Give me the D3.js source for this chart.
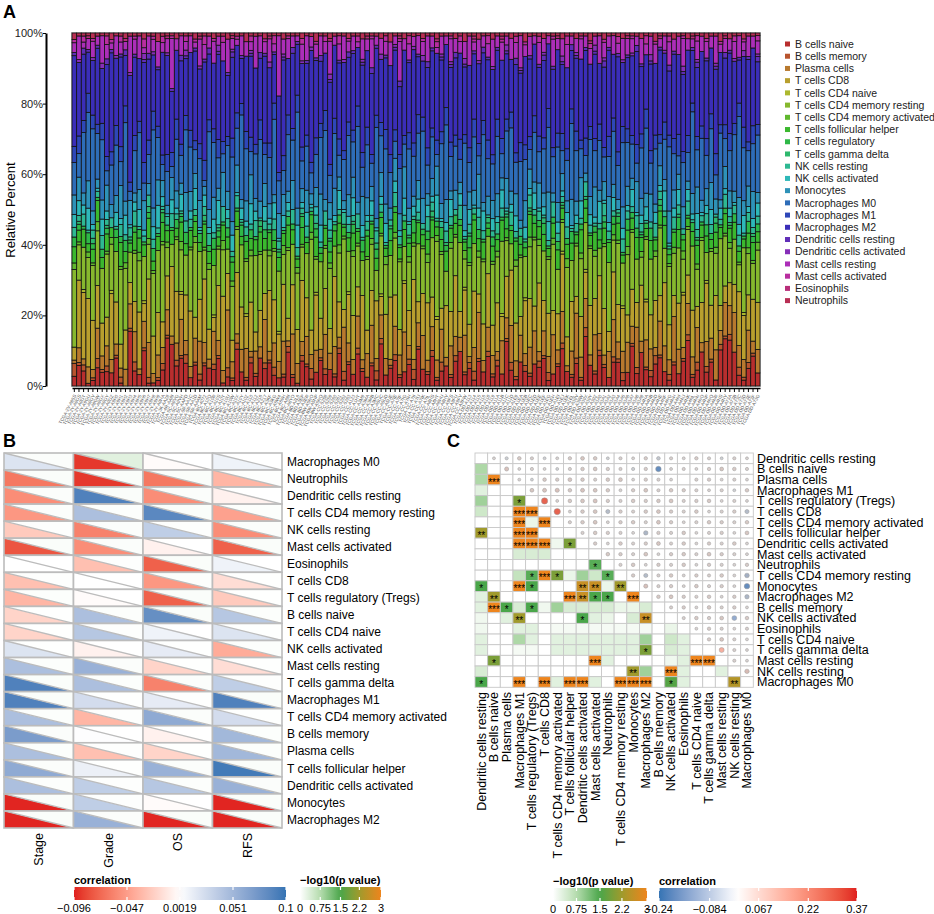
<!DOCTYPE html>
<html>
<head>
<meta charset="utf-8">
<script src="https://cdn.jsdelivr.net/npm/d3@7"></script>
<style>
  body { margin: 0; background: #fff; }
  svg { font-family: 'Liberation Sans', Arial, sans-serif; }
</style>
</head>
<body>
<svg id="fig" width="934" height="914"></svg>
<script>
// ---------- Panel A : CIBERSORT fractions per sample ----------
const cellTypes = ['B cells naive', 'B cells memory', 'Plasma cells', 'T cells CD8', 'T cells CD4 naive',
  'T cells CD4 memory resting', 'T cells CD4 memory activated', 'T cells follicular helper',
  'T cells regulatory', 'T cells gamma delta', 'NK cells resting', 'NK cells activated', 'Monocytes',
  'Macrophages M0', 'Macrophages M1', 'Macrophages M2', 'Dendritic cells resting',
  'Dendritic cells activated', 'Mast cells resting', 'Mast cells activated', 'Eosinophils', 'Neutrophils']

const cellColors = ['#b82e2e', '#b8542e', '#b8792e', '#b89f2e', '#acb82e', '#86b82e', '#60b82e', '#3bb82e',
  '#2eb847', '#2eb86d', '#2eb892', '#2eb8b8', '#2e92b8', '#2e6db8', '#2e47b8', '#3b2eb8', '#602eb8',
  '#862eb8', '#ac2eb8', '#b82e9f', '#b82e79', '#b82e54']

const percentTicks = [0, 0.2, 0.4, 0.6, 0.8, 1]

const sampleIds = [
  'TCGA-2V-A95S', 'TCGA-2Y-A9GS', 'TCGA-2Y-A9GT', 'TCGA-2Y-A9GU', 'TCGA-2Y-A9GV', 'TCGA-2Y-A9GW', 'TCGA-2Y-A9GX', 'TCGA-2Y-A9GY', 'TCGA-2Y-A9GZ', 'TCGA-2Y-A9H0',
  'TCGA-2Y-A9H1', 'TCGA-2Y-A9H2', 'TCGA-2Y-A9H3', 'TCGA-2Y-A9H4', 'TCGA-2Y-A9H5', 'TCGA-2Y-A9H6', 'TCGA-2Y-A9H7', 'TCGA-2Y-A9H8', 'TCGA-2Y-A9H9', 'TCGA-2Y-A9HA',
  'TCGA-3K-AAZ8', 'TCGA-4R-AA8I', 'TCGA-5C-A9VG', 'TCGA-5C-A9VH', 'TCGA-5C-AAPD', 'TCGA-5R-AA1C', 'TCGA-5R-AA1D', 'TCGA-5R-AAAM', 'TCGA-BC-4072', 'TCGA-BC-A10Q',
  'TCGA-BC-A10R', 'TCGA-BC-A10S', 'TCGA-BC-A10T', 'TCGA-BC-A10U', 'TCGA-BC-A10W', 'TCGA-BC-A10X', 'TCGA-BC-A10Y', 'TCGA-BC-A10Z', 'TCGA-BC-A110', 'TCGA-BC-A112',
  'TCGA-BC-A216', 'TCGA-BC-A217', 'TCGA-BC-A3KF', 'TCGA-BC-A3KG', 'TCGA-BC-A5W4', 'TCGA-BC-A69H', 'TCGA-BC-A69I', 'TCGA-BC-A8YO', 'TCGA-BD-A2L6', 'TCGA-BD-A3EP',
  'TCGA-BD-A3ER', 'TCGA-BW-A5NO', 'TCGA-BW-A5NP', 'TCGA-BW-A5NQ', 'TCGA-CC-5258', 'TCGA-CC-5259', 'TCGA-CC-5260', 'TCGA-CC-5261', 'TCGA-CC-5262', 'TCGA-CC-5263',
  'TCGA-CC-A123', 'TCGA-CC-A1HT', 'TCGA-CC-A3M9', 'TCGA-CC-A3MA', 'TCGA-CC-A3MB', 'TCGA-CC-A3MC', 'TCGA-CC-A5UC', 'TCGA-CC-A5UD', 'TCGA-CC-A5UE', 'TCGA-CC-A7IE',
  'TCGA-CC-A7IF', 'TCGA-CC-A7IG', 'TCGA-CC-A7IH', 'TCGA-CC-A7II', 'TCGA-CC-A7IJ', 'TCGA-CC-A7IK', 'TCGA-CC-A7IL', 'TCGA-CC-A8HS', 'TCGA-CC-A8HT', 'TCGA-CC-A8HU',
  'TCGA-CC-A8HV', 'TCGA-CC-A9FS', 'TCGA-CC-A9FU', 'TCGA-CC-A9FV', 'TCGA-CC-A9FW', 'TCGA-DD-A113', 'TCGA-DD-A114', 'TCGA-DD-A115', 'TCGA-DD-A116', 'TCGA-DD-A118',
  'TCGA-DD-A119', 'TCGA-DD-A11A', 'TCGA-DD-A11B', 'TCGA-DD-A11C', 'TCGA-DD-A11D', 'TCGA-DD-A1E9', 'TCGA-DD-A1EA', 'TCGA-DD-A1EB', 'TCGA-DD-A1EC', 'TCGA-DD-A1ED',
  'TCGA-DD-A1EE', 'TCGA-DD-A1EF', 'TCGA-DD-A1EG', 'TCGA-DD-A1EH', 'TCGA-DD-A1EI', 'TCGA-DD-A1EJ', 'TCGA-DD-A1EK', 'TCGA-DD-A1EL', 'TCGA-DD-A39V', 'TCGA-DD-A39W',
  'TCGA-DD-A39X', 'TCGA-DD-A39Y', 'TCGA-DD-A39Z', 'TCGA-DD-A3A0', 'TCGA-DD-A3A1', 'TCGA-DD-A3A2', 'TCGA-DD-A3A3', 'TCGA-DD-A3A4', 'TCGA-DD-A3A5', 'TCGA-DD-A3A6',
  'TCGA-DD-A3A7', 'TCGA-DD-A3A8', 'TCGA-DD-A3A9', 'TCGA-DD-A4NA', 'TCGA-DD-A4NB', 'TCGA-DD-A4ND', 'TCGA-DD-A4NE', 'TCGA-DD-A4NF', 'TCGA-DD-A4NG', 'TCGA-DD-A4NH',
  'TCGA-DD-A4NI', 'TCGA-DD-A4NJ', 'TCGA-DD-A4NK', 'TCGA-DD-A4NL', 'TCGA-DD-A4NN', 'TCGA-DD-A4NO', 'TCGA-DD-A4NP', 'TCGA-DD-A4NQ', 'TCGA-DD-A4NR', 'TCGA-DD-A4NS',
  'TCGA-DD-A4NV', 'TCGA-DD-A73A', 'TCGA-DD-A73B', 'TCGA-DD-A73C', 'TCGA-DD-A73D', 'TCGA-DD-A73E', 'TCGA-DD-A73F', 'TCGA-DD-A73G']

// relative amounts (%), one value per sample, stacked bottom -> top
const fracBNaive = [
  3, 7, 5, 1, 2, 6, 5, 5, 4, 10, 1, 0, 18, 5, 4, 12, 1, 1, 2, 5, 17, 15, 7, 10, 8, 3, 7, 2, 7, 6,
  6, 9, 1, 3, 2, 12, 5, 2, 8, 3, 10, 6, 8, 4, 3, 3, 12, 3, 1, 9, 7, 2, 5, 9, 4, 6, 3, 12, 2, 8,
  4, 11, 5, 3, 7, 2, 16, 4, 6, 9, 3, 5, 8, 2, 14, 6, 4, 10, 2, 5, 7, 3, 9, 12, 4, 6, 2, 8, 5, 11,
  3, 7, 4, 15, 6, 2, 9, 5, 3, 8, 6, 10, 2, 4, 7, 13, 5, 3, 8, 2, 17, 8, 4, 11, 6, 3, 9, 7, 2, 5,
  14, 4, 12, 6, 3, 8, 10, 5, 2, 7, 4, 9, 16, 3, 6, 11, 5, 8, 2, 13, 17, 16, 12, 4, 2, 6, 10, 5]
const fracBMemory = [
  4, 1, 2, 0, 1, 3, 1, 2, 0, 1, 2, 0, 1, 3, 0, 1, 2, 0, 1, 2, 1, 0, 2, 1, 3, 0, 1, 2, 1, 0,
  2, 1, 0, 3, 1, 2, 0, 1, 2, 1, 0, 2, 1, 3, 0, 1, 2, 1, 0, 2, 1, 3, 0, 1, 2, 0, 1, 2, 3, 1,
  0, 2, 1, 0, 1, 3, 2, 0, 1, 2, 1, 0, 2, 3, 1, 0, 1, 2, 1, 3, 0, 1, 2, 0, 1, 2, 3, 1, 0, 2,
  1, 2, 0, 1, 3, 1, 0, 2, 1, 0, 2, 1, 3, 0, 1, 2, 0, 1, 2, 1, 3, 0, 1, 2, 1, 0, 2, 1, 3, 0,
  1, 2, 0, 1, 2, 3, 1, 0, 2, 1, 0, 1, 2, 1, 3, 0, 2, 1, 0, 2, 1, 2, 0, 3, 1, 2, 1, 0]
const fracPlasma = [
  1, 5, 2, 6, 3, 10, 5, 7, 4, 4, 3, 6, 8, 10, 2, 9, 12, 3, 8, 5, 9, 3, 6, 13, 5, 4, 8, 11, 7, 3,
  12, 5, 4, 19, 6, 3, 8, 10, 2, 7, 4, 15, 3, 9, 6, 11, 2, 14, 7, 5, 10, 4, 8, 3, 12, 6, 9, 4, 15, 7,
  5, 11, 3, 8, 13, 4, 9, 6, 2, 10, 7, 14, 5, 3, 9, 12, 4, 8, 6, 11, 3, 10, 7, 5, 13, 2, 8, 15, 4, 9,
  6, 3, 11, 7, 14, 5, 10, 4, 8, 12, 3, 9, 6, 13, 5, 11, 2, 8, 16, 7, 10, 4, 12, 6, 3, 9, 14, 5, 8, 11,
  6, 13, 4, 10, 7, 3, 12, 9, 5, 15, 8, 4, 11, 6, 13, 3, 9, 7, 10, 5, 12, 10, 14, 8, 6, 11, 4, 9]
const fracCD8 = [
  4, 23, 22, 25, 18, 14, 12, 10, 20, 15, 8, 14, 7, 10, 20, 6, 22, 12, 15, 8, 12, 25, 18, 9, 16, 20, 7, 14, 22, 10,
  5, 18, 24, 12, 8, 20, 15, 11, 17, 6, 13, 9, 21, 16, 10, 19, 8, 17, 12, 22, 14, 7, 20, 11, 16, 9, 23, 13, 6, 18,
  15, 10, 22, 8, 12, 19, 7, 16, 21, 11, 9, 17, 13, 24, 8, 15, 20, 10, 14, 7, 18, 12, 22, 9, 16, 11, 19, 6, 13, 20,
  10, 17, 8, 14, 21, 12, 7, 18, 15, 9, 22, 11, 16, 8, 13, 20, 10, 17, 6, 14, 9, 19, 12, 21, 15, 7, 18, 11, 16, 10,
  13, 8, 20, 14, 11, 17, 9, 22, 12, 7, 15, 19, 10, 16, 8, 13, 21, 11, 18, 9, 6, 8, 10, 20, 15, 12, 14, 18]
const fracCD4Naive = [
  0, 0, 1, 0, 0, 0, 0, 0, 1, 0, 0, 0, 0, 0, 0, 1, 0, 0, 0, 0, 0, 0, 0, 1, 0, 0, 0, 0, 0, 0,
  1, 0, 0, 0, 0, 0, 0, 1, 0, 0, 0, 0, 0, 0, 1, 0, 0, 0, 0, 0, 0, 0, 1, 0, 0, 0, 0, 0, 0, 1,
  0, 0, 0, 0, 0, 0, 1, 0, 0, 0, 0, 1, 0, 0, 0, 0, 0, 0, 1, 0, 0, 0, 0, 0, 1, 0, 0, 0, 0, 0,
  0, 0, 1, 0, 0, 0, 0, 1, 0, 0, 0, 0, 0, 0, 0, 1, 0, 0, 0, 0, 1, 0, 0, 0, 0, 0, 0, 0, 1, 0,
  0, 0, 0, 1, 0, 0, 0, 0, 0, 0, 0, 1, 0, 0, 0, 0, 1, 0, 0, 0, 0, 0, 0, 0, 1, 0, 0, 0]
const fracCD4MemRest = [
  24, 12, 14, 15, 20, 18, 20, 22, 14, 18, 25, 22, 10, 16, 18, 15, 12, 20, 22, 24, 10, 8, 18, 15, 14, 22, 25, 16, 10, 20,
  18, 12, 15, 8, 20, 14, 22, 18, 16, 24, 20, 15, 12, 18, 22, 10, 24, 14, 20, 12, 16, 26, 12, 20, 14, 22, 10, 18, 24, 15,
  20, 14, 12, 24, 16, 10, 22, 18, 14, 20, 24, 12, 18, 10, 22, 16, 14, 20, 26, 18, 12, 22, 14, 24, 10, 20, 16, 12, 22, 14,
  20, 16, 24, 12, 10, 18, 22, 14, 16, 24, 12, 18, 20, 22, 16, 10, 24, 14, 18, 20, 16, 22, 14, 10, 20, 24, 12, 18, 16, 22,
  20, 14, 10, 22, 18, 16, 24, 12, 20, 14, 18, 12, 16, 22, 14, 20, 10, 18, 14, 24, 18, 12, 16, 10, 22, 14, 12, 20]
const fracCD4MemAct = [
  2, 1, 0, 2, 1, 3, 0, 1, 2, 0, 1, 2, 0, 1, 3, 0, 2, 1, 0, 1, 2, 0, 1, 3, 0, 1, 2, 0, 1, 2,
  0, 1, 3, 0, 2, 1, 0, 1, 2, 0, 1, 0, 2, 1, 0, 3, 1, 0, 2, 1, 0, 2, 1, 0, 1, 2, 0, 3, 1, 0,
  2, 1, 0, 1, 2, 0, 1, 3, 0, 2, 1, 0, 2, 1, 0, 1, 3, 0, 2, 1, 0, 2, 1, 0, 3, 1, 0, 2, 1, 0,
  1, 2, 0, 1, 0, 2, 1, 0, 3, 1, 2, 0, 1, 2, 0, 1, 3, 0, 1, 2, 0, 1, 2, 0, 1, 0, 2, 1, 0, 3,
  1, 0, 2, 1, 0, 2, 1, 0, 1, 2, 0, 3, 1, 0, 2, 1, 0, 1, 2, 0, 1, 2, 0, 1, 0, 2, 1, 3]
const fracTfh = [
  5, 4, 6, 3, 5, 7, 4, 6, 3, 5, 8, 4, 3, 6, 5, 4, 7, 3, 5, 6, 4, 5, 3, 7, 4, 6, 5, 3, 8, 4,
  6, 3, 5, 4, 7, 5, 3, 6, 4, 5, 7, 4, 6, 3, 5, 4, 8, 5, 3, 6, 4, 5, 7, 3, 6, 4, 5, 8, 3, 5,
  6, 4, 3, 7, 5, 4, 6, 3, 5, 7, 4, 6, 5, 3, 8, 4, 5, 6, 3, 4, 7, 5, 4, 6, 3, 5, 8, 4, 6, 3,
  5, 4, 7, 3, 5, 6, 4, 3, 7, 5, 4, 6, 3, 5, 7, 4, 5, 6, 3, 8, 5, 4, 6, 3, 5, 7, 4, 5, 3, 6,
  4, 7, 5, 3, 6, 4, 5, 8, 3, 5, 6, 4, 3, 5, 7, 4, 6, 3, 5, 4, 7, 5, 6, 4, 3, 5, 6, 4]
const fracTregs = [
  3, 2, 1, 4, 2, 1, 3, 2, 0, 3, 2, 4, 1, 2, 3, 1, 2, 4, 1, 3, 2, 1, 3, 2, 4, 1, 2, 3, 1, 2,
  4, 2, 1, 3, 2, 1, 4, 2, 3, 1, 2, 3, 1, 4, 2, 1, 3, 2, 1, 4, 2, 1, 3, 2, 1, 4, 2, 3, 1, 2,
  3, 1, 4, 2, 1, 3, 2, 1, 4, 2, 1, 3, 2, 4, 1, 2, 3, 1, 2, 4, 2, 1, 3, 2, 1, 4, 2, 3, 1, 2,
  3, 2, 1, 4, 2, 1, 3, 2, 1, 3, 2, 4, 1, 2, 3, 1, 2, 4, 1, 2, 3, 1, 2, 4, 2, 1, 3, 2, 1, 4,
  2, 3, 1, 2, 4, 1, 2, 3, 2, 1, 4, 2, 1, 3, 2, 1, 4, 2, 3, 1, 2, 1, 3, 2, 1, 4, 2, 3]
const fracGammaDelta = [
  0, 1, 0, 0, 2, 0, 0, 1, 0, 0, 0, 0, 1, 0, 0, 0, 2, 0, 0, 1, 0, 0, 0, 1, 0, 0, 0, 0, 2, 0,
  0, 1, 0, 0, 0, 0, 1, 0, 0, 0, 2, 0, 0, 0, 1, 0, 0, 0, 0, 1, 0, 0, 2, 0, 0, 1, 0, 0, 0, 0,
  1, 0, 0, 0, 0, 2, 0, 0, 1, 0, 0, 0, 1, 0, 0, 0, 0, 2, 0, 0, 1, 0, 0, 0, 0, 1, 0, 0, 0, 2,
  0, 0, 0, 1, 0, 0, 0, 0, 1, 0, 0, 2, 0, 0, 0, 1, 0, 0, 0, 0, 1, 0, 0, 0, 2, 0, 0, 1, 0, 0,
  0, 0, 1, 0, 0, 0, 2, 0, 0, 0, 1, 0, 0, 0, 1, 0, 0, 0, 2, 0, 0, 1, 0, 0, 0, 0, 1, 0]
const fracNKRest = [
  3, 2, 4, 1, 3, 2, 5, 2, 3, 1, 4, 2, 3, 5, 1, 2, 4, 3, 2, 1, 3, 5, 2, 1, 4, 3, 2, 1, 3, 4,
  2, 1, 5, 3, 2, 4, 1, 3, 2, 5, 1, 3, 2, 4, 3, 1, 2, 5, 3, 2, 4, 1, 3, 2, 5, 3, 1, 2, 4, 3,
  2, 5, 1, 3, 2, 4, 3, 1, 2, 5, 3, 2, 4, 1, 3, 2, 5, 3, 1, 2, 4, 3, 2, 5, 1, 3, 2, 4, 3, 1,
  2, 4, 3, 1, 5, 2, 3, 1, 4, 2, 3, 1, 2, 5, 3, 2, 4, 1, 3, 2, 5, 3, 1, 2, 4, 3, 2, 1, 5, 3,
  2, 4, 3, 1, 2, 5, 3, 2, 1, 4, 3, 2, 5, 1, 3, 2, 4, 3, 1, 2, 5, 2, 3, 4, 1, 3, 2, 3]
const fracNKAct = [
  4, 5, 3, 8, 2, 1, 6, 3, 0, 5, 2, 7, 1, 3, 6, 2, 0, 4, 8, 3, 1, 5, 2, 6, 0, 3, 7, 1, 4, 2,
  5, 8, 0, 3, 6, 1, 4, 2, 7, 3, 0, 5, 2, 6, 1, 4, 3, 0, 8, 2, 5, 1, 3, 6, 0, 4, 2, 7, 1, 3,
  6, 0, 4, 2, 5, 1, 3, 7, 0, 4, 2, 6, 1, 3, 5, 0, 4, 2, 8, 1, 3, 6, 0, 4, 2, 5, 1, 3, 7, 0,
  4, 2, 6, 1, 3, 5, 0, 4, 2, 6, 1, 3, 7, 0, 4, 2, 5, 1, 3, 6, 0, 4, 2, 8, 1, 3, 5, 0, 4, 2,
  6, 1, 3, 5, 0, 4, 2, 7, 1, 3, 5, 0, 4, 2, 6, 1, 3, 5, 0, 4, 2, 3, 1, 4, 6, 2, 3, 5]
const fracMonocytes = [
  6, 8, 4, 10, 5, 3, 7, 9, 4, 6, 11, 5, 8, 3, 7, 10, 4, 6, 9, 5, 3, 8, 6, 4, 10, 7, 5, 9, 3, 6,
  8, 4, 11, 6, 5, 9, 3, 7, 10, 4, 6, 8, 5, 3, 9, 7, 4, 10, 6, 5, 8, 3, 7, 11, 4, 6, 9, 5, 3, 8,
  7, 4, 10, 6, 5, 3, 9, 7, 4, 8, 6, 11, 5, 3, 7, 9, 4, 6, 10, 5, 8, 3, 7, 4, 9, 6, 5, 11, 3, 7,
  6, 8, 4, 10, 5, 7, 3, 9, 6, 4, 8, 5, 11, 3, 7, 6, 4, 9, 5, 8, 3, 7, 10, 4, 6, 9, 5, 3, 8, 7,
  4, 10, 6, 5, 9, 3, 7, 4, 11, 6, 5, 8, 3, 7, 10, 4, 6, 9, 5, 3, 8, 6, 4, 10, 5, 7, 9, 4]
const fracM0 = [
  10, 8, 20, 25, 30, 15, 22, 5, 12, 18, 8, 28, 3, 14, 20, 6, 10, 25, 15, 5, 12, 4, 18, 10, 22, 16, 8, 14, 2, 26,
  20, 10, 6, 15, 24, 12, 30, 18, 8, 14, 22, 10, 16, 28, 12, 8, 20, 14, 34, 10, 16, 6, 12, 20, 24, 10, 18, 8, 14, 22,
  12, 26, 10, 18, 8, 30, 14, 20, 12, 6, 16, 8, 22, 12, 18, 24, 10, 14, 4, 20, 26, 12, 16, 8, 22, 10, 18, 6, 24, 14,
  12, 20, 8, 16, 24, 10, 22, 14, 6, 18, 10, 16, 24, 12, 20, 8, 14, 26, 18, 10, 6, 22, 12, 18, 8, 14, 20, 10, 24, 16,
  12, 6, 18, 24, 10, 20, 8, 14, 22, 12, 6, 16, 10, 28, 14, 20, 12, 18, 8, 24, 10, 14, 20, 30, 18, 12, 16, 22]
const fracM1 = [
  5, 6, 4, 7, 5, 3, 6, 5, 4, 7, 5, 6, 3, 5, 4, 7, 5, 6, 4, 3, 6, 5, 7, 4, 5, 6, 3, 5, 7, 4,
  5, 6, 4, 3, 7, 5, 4, 6, 5, 3, 7, 4, 5, 6, 3, 5, 7, 4, 6, 5, 4, 3, 6, 5, 7, 4, 5, 6, 3, 5,
  4, 7, 5, 6, 3, 4, 5, 7, 6, 4, 5, 3, 6, 4, 7, 5, 6, 3, 5, 4, 6, 5, 4, 7, 3, 5, 6, 4, 5, 7,
  3, 6, 5, 4, 6, 3, 7, 5, 4, 6, 5, 4, 7, 3, 5, 6, 4, 5, 7, 3, 6, 5, 4, 6, 3, 7, 5, 4, 6, 5,
  3, 6, 5, 7, 4, 5, 3, 6, 4, 5, 7, 4, 6, 3, 5, 4, 6, 5, 7, 3, 5, 6, 4, 5, 7, 3, 6, 4]
const fracM2 = [
  28, 25, 22, 15, 20, 25, 20, 32, 30, 24, 30, 18, 35, 26, 22, 34, 28, 18, 20, 32, 35, 22, 24, 30, 20, 28, 30, 25, 34, 22,
  24, 28, 26, 20, 30, 22, 16, 26, 28, 24, 22, 30, 26, 18, 28, 32, 20, 26, 18, 30, 26, 32, 28, 22, 20, 30, 24, 28, 30, 24,
  26, 20, 30, 26, 28, 22, 24, 26, 30, 28, 24, 30, 26, 28, 22, 20, 28, 26, 30, 24, 22, 26, 28, 30, 24, 28, 22, 26, 24, 30,
  28, 24, 26, 22, 20, 28, 26, 30, 24, 26, 22, 28, 24, 26, 30, 24, 28, 20, 26, 28, 30, 24, 28, 22, 26, 30, 24, 28, 24, 26,
  28, 30, 24, 20, 28, 26, 30, 24, 22, 28, 26, 28, 30, 18, 26, 24, 28, 22, 28, 26, 24, 28, 22, 16, 24, 28, 26, 24]
const fracDCRest = [
  1, 0, 2, 1, 0, 1, 0, 2, 1, 0, 1, 2, 0, 1, 0, 1, 2, 0, 1, 0, 0, 1, 0, 2, 1, 0, 1, 0, 1, 2,
  0, 1, 0, 1, 2, 0, 1, 0, 1, 0, 2, 1, 0, 1, 0, 1, 0, 2, 1, 0, 1, 0, 1, 2, 0, 1, 0, 1, 0, 2,
  1, 0, 1, 0, 2, 1, 0, 1, 0, 1, 2, 0, 1, 0, 1, 0, 2, 1, 0, 1, 0, 1, 2, 0, 1, 0, 1, 0, 2, 1,
  0, 1, 0, 1, 0, 2, 1, 0, 1, 0, 1, 2, 0, 1, 0, 1, 0, 2, 1, 0, 1, 0, 1, 0, 2, 1, 0, 1, 0, 1,
  0, 2, 1, 0, 1, 0, 1, 0, 2, 1, 0, 1, 0, 1, 2, 0, 1, 0, 1, 0, 2, 1, 0, 1, 0, 1, 0, 2]
const fracDCAct = [
  0, 1, 0, 0, 1, 0, 2, 0, 0, 1, 0, 0, 1, 0, 0, 2, 0, 1, 0, 0, 1, 0, 0, 0, 2, 0, 0, 1, 0, 0,
  0, 2, 0, 0, 1, 0, 0, 0, 1, 0, 0, 0, 2, 0, 0, 1, 0, 0, 0, 1, 0, 1, 0, 0, 0, 2, 0, 0, 1, 0,
  0, 0, 1, 0, 0, 0, 2, 0, 0, 1, 0, 0, 0, 1, 0, 2, 0, 0, 0, 1, 0, 1, 0, 0, 2, 0, 0, 1, 0, 0,
  1, 0, 0, 2, 0, 0, 1, 0, 0, 0, 0, 1, 0, 0, 0, 2, 0, 0, 1, 0, 0, 0, 2, 0, 1, 0, 0, 0, 1, 0,
  1, 0, 0, 0, 2, 0, 0, 1, 0, 0, 0, 2, 0, 0, 1, 0, 0, 0, 1, 0, 0, 0, 1, 0, 2, 0, 0, 1]
const fracMastRest = [
  3, 8, 2, 4, 6, 3, 10, 5, 2, 7, 4, 3, 12, 5, 8, 2, 6, 4, 9, 3, 5, 18, 4, 7, 3, 6, 2, 9, 5, 4,
  8, 3, 6, 11, 4, 2, 7, 5, 3, 10, 6, 4, 8, 3, 22, 5, 7, 4, 2, 6, 9, 3, 5, 7, 4, 12, 3, 6, 8, 4,
  5, 2, 7, 4, 10, 3, 6, 5, 8, 3, 14, 4, 6, 3, 7, 5, 9, 4, 2, 6, 3, 8, 5, 4, 6, 10, 3, 7, 4, 5,
  9, 4, 6, 3, 8, 5, 12, 4, 6, 3, 7, 5, 3, 9, 4, 6, 8, 3, 5, 7, 4, 6, 3, 10, 5, 4, 7, 3, 8, 6,
  5, 3, 9, 4, 6, 7, 3, 5, 8, 4, 6, 10, 4, 3, 7, 5, 6, 4, 9, 3, 5, 4, 6, 8, 3, 7, 4, 5]
const fracMastAct = [
  1, 0, 2, 0, 1, 0, 0, 3, 1, 0, 2, 0, 0, 1, 0, 3, 0, 1, 0, 2, 0, 1, 0, 0, 2, 0, 1, 0, 3, 0,
  1, 0, 2, 0, 0, 1, 0, 0, 2, 0, 0, 1, 0, 3, 0, 0, 1, 0, 0, 2, 0, 0, 1, 0, 2, 0, 0, 3, 0, 1,
  0, 2, 0, 0, 1, 0, 0, 2, 0, 0, 1, 0, 3, 0, 0, 1, 0, 0, 2, 0, 0, 1, 0, 2, 0, 0, 1, 0, 0, 3,
  0, 0, 1, 0, 0, 2, 0, 1, 0, 0, 2, 0, 0, 1, 0, 0, 3, 0, 0, 1, 0, 2, 0, 0, 1, 0, 0, 2, 0, 0,
  1, 0, 0, 3, 0, 1, 0, 0, 2, 0, 0, 1, 0, 0, 2, 0, 1, 0, 0, 1, 0, 0, 2, 0, 1, 0, 0, 2]
const fracEosinophils = [
  0, 0, 0, 1, 0, 0, 0, 0, 0, 0, 0, 1, 0, 0, 0, 0, 0, 0, 0, 0, 1, 0, 0, 0, 0, 0, 0, 1, 0, 0,
  0, 0, 0, 0, 1, 0, 0, 0, 0, 0, 0, 0, 1, 0, 0, 0, 0, 0, 0, 0, 0, 0, 0, 0, 0, 1, 0, 0, 0, 0,
  0, 0, 0, 1, 0, 0, 0, 0, 0, 0, 1, 0, 0, 0, 0, 0, 0, 0, 1, 0, 0, 0, 0, 0, 0, 0, 1, 0, 0, 0,
  0, 0, 1, 0, 0, 0, 0, 0, 0, 0, 0, 0, 0, 0, 1, 0, 0, 0, 0, 0, 0, 1, 0, 0, 0, 0, 0, 0, 0, 1,
  0, 0, 0, 0, 0, 0, 1, 0, 0, 0, 0, 0, 0, 1, 0, 0, 0, 0, 0, 0, 1, 0, 0, 0, 0, 0, 0, 0]
const fracNeutrophils = [
  2, 1, 1, 1, 2, 1, 1, 1, 2, 1, 1, 2, 1, 1, 1, 2, 1, 1, 3, 1, 1, 1, 2, 1, 1, 1, 2, 1, 1, 1,
  2, 1, 1, 2, 1, 1, 1, 3, 1, 1, 1, 2, 1, 1, 1, 2, 1, 1, 1, 2, 1, 1, 3, 1, 1, 2, 1, 1, 1, 2,
  1, 1, 2, 1, 1, 1, 2, 1, 3, 1, 1, 2, 1, 1, 1, 2, 1, 1, 2, 1, 1, 1, 2, 1, 3, 1, 1, 2, 1, 1,
  2, 1, 1, 1, 2, 1, 1, 3, 1, 1, 1, 2, 1, 1, 1, 2, 1, 1, 2, 1, 1, 3, 1, 1, 2, 1, 1, 1, 2, 1,
  1, 1, 2, 1, 1, 3, 1, 1, 1, 2, 1, 1, 2, 1, 1, 1, 2, 1, 1, 3, 1, 2, 1, 1, 2, 1, 1, 1]

const fractions = [fracBNaive, fracBMemory, fracPlasma, fracCD8, fracCD4Naive, fracCD4MemRest,
  fracCD4MemAct, fracTfh, fracTregs, fracGammaDelta, fracNKRest, fracNKAct, fracMonocytes, fracM0,
  fracM1, fracM2, fracDCRest, fracDCAct, fracMastRest, fracMastAct, fracEosinophils, fracNeutrophils]

// ---------- Panel B : immune cells vs clinical features ----------
const clinCols = ['Stage', 'Grade', 'OS', 'RFS']
const clinRows = ['Macrophages M0', 'Neutrophils', 'Dendritic cells resting', 'T cells CD4 memory resting',
  'NK cells resting', 'Mast cells activated', 'Eosinophils', 'T cells CD8', 'T cells regulatory (Tregs)',
  'B cells naive', 'T cells CD4 naive', 'NK cells activated', 'Mast cells resting', 'T cells gamma delta',
  'Macrophages M1', 'T cells CD4 memory activated', 'B cells memory', 'Plasma cells',
  'T cells follicular helper', 'Dendritic cells activated', 'Monocytes', 'Macrophages M2']
const stageCor = [0.02, -0.065, -0.055, -0.05, -0.025, -0.08, 0.002, -0.03, -0.035, -0.02, -0.02, 0.02, 0.045, 0.09, 0.09, 0.045, 0.07, 0.045, 0.06, 0.045, -0.095, -0.095]
const gradeCor = [-0.09, -0.09, 0.09, 0.045, -0.06, -0.055, -0.03, 0.002, 0.0, 0.045, 0.04, -0.005, 0.055, 0.045, 0.025, -0.035, 0.003, -0.03, 0.012, 0.035, 0.035, 0.055]
const osCor = [0.0, -0.065, -0.055, 0.085, 0.035, -0.005, -0.075, -0.05, -0.075, 0.08, 0.01, 0.015, -0.02, -0.06, 0.015, 0.06, -0.005, -0.02, 0.055, 0.04, 0.0, -0.095]
const rfsCor = [0.01, -0.035, -0.005, -0.045, -0.055, -0.075, 0.01, -0.015, -0.025, 0.04, 0.02, -0.04, -0.015, 0.035, 0.09, 0.025, 0.05, 0.05, 0.095, 0.055, -0.095, -0.095]
const stageP = [0.04, 0.05, 0.04, 0.04, 0.02, 0.05, 0, 0.02, 0.03, 0.01, 0.01, 0.01, 0.03, 0.05, 0.05, 0.03, 0.04, 0.03, 0.04, 0.03, 0.05, 0.05]
const gradeP = [0.3, 0.05, 0.05, 0.03, 0.04, 0.04, 0.02, 0, 0, 0.03, 0.02, 0, 0.04, 0.03, 0.01, 0.02, 0, 0.02, 0.01, 0.02, 0.02, 0.04]
const osP = [0, 0.05, 0.04, 0.05, 0.02, 0, 0.05, 0.03, 0.05, 0.05, 0, 0.01, 0.01, 0.04, 0.01, 0.04, 0, 0.01, 0.04, 0.03, 0, 0.05]
const rfsP = [0, 0.02, 0, 0.03, 0.04, 0.05, 0, 0.01, 0.01, 0.03, 0.01, 0.03, 0.01, 0.02, 0.05, 0.01, 0.03, 0.03, 0.05, 0.04, 0.05, 0.05]
const clinCor = [stageCor, gradeCor, osCor, rfsCor]
const clinP = [stageP, gradeP, osP, rfsP]

// ---------- Panel C : cell-cell correlation matrix ----------
const corrCells = ['Dendritic cells resting', 'B cells naive', 'Plasma cells', 'Macrophages M1',
  'T cells regulatory (Tregs)', 'T cells CD8', 'T cells CD4 memory activated', 'T cells follicular helper',
  'Dendritic cells activated', 'Mast cells activated', 'Neutrophils', 'T cells CD4 memory resting',
  'Monocytes', 'Macrophages M2', 'B cells memory', 'NK cells activated', 'Eosinophils', 'T cells CD4 naive',
  'T cells gamma delta', 'Mast cells resting', 'NK cells resting', 'Macrophages M0']
// -log10(p) below the diagonal, row i holds columns 0..i-1
const pLower = [
  [],
  [0.8],
  [0.8, 3.2],
  [0.3, 0, 0],
  [0.9, 0, 0, 1.9],
  [0.5, 0, 0, 3.2, 3.2],
  [0, 0, 0, 3.2, 0.2, 3.2],
  [2.2, 0, 0, 3.2, 3.2, 0, 0],
  [0, 0, 0, 3.2, 3.2, 3.2, 0.15, 1.9],
  [0, 0, 0, 0.4, 0.4, 0.4, 0, 0, 0],
  [0, 0, 0, 0, 0, 0, 0, 0, 0, 1.4],
  [0, 0, 0, 0.6, 1.4, 3.2, 1.9, 0.2, 0.9, 0.5, 1.4],
  [1.5, 0, 0, 3.2, 1.5, 0, 0, 0, 2.6, 2.6, 0.2, 2.2],
  [0.3, 2.2, 0, 0, 0, 0, 0, 3.2, 2.6, 1.5, 1.5, 0, 3.2],
  [0.3, 3.2, 1.5, 0.4, 1.5, 0.15, 0.9, 0.4, 0.4, 0.4, 0.4, 0.2, 0.2, 0.4],
  [0.15, 0, 0.3, 2.2, 0, 0, 0, 0, 1.5, 0.3, 0.2, 0, 0.4, 2.6, 0],
  [0.15, 0, 0, 0.3, 0.3, 0, 0.1, 0.1, 0.1, 0.1, 0.1, 0.1, 0.1, 0.1, 0, 0.2],
  [0.3, 0, 0, 0.8, 0.3, 0, 0.3, 0.3, 0.3, 0.3, 0.3, 0.3, 0.3, 0.9, 0, 0.5, 0.3],
  [0.3, 0, 0, 0.1, 0.1, 0, 0.3, 0.3, 0.3, 0.3, 0.3, 0.3, 0.3, 1.9, 0, 0.4, 0.3, 0],
  [0, 1.9, 0, 0, 0, 0, 0, 0, 0, 3.2, 0.3, 0, 0, 0, 0, 0.15, 0.3, 3.0, 3.2],
  [0.4, 0, 0, 0, 0, 0, 0, 0, 0, 0, 0, 0, 2.2, 0.9, 0, 3.2, 0.3, 0, 0, 0.3],
  [1.5, 0, 0, 3.2, 0, 3.2, 0.3, 3.2, 3.2, 0.3, 0, 3.2, 3.2, 3.2, 0, 1.6, 0.3, 0, 0, 0, 2.4]
]
// correlation above the diagonal, row i holds columns i+1..21
const corUpper = [
  [0.02, -0.03, 0.05, 0.03, -0.02, 0.02, 0.04, 0.06, 0.05, -0.02, 0.03, 0.02, 0.04, -0.05, 0.03, 0.02, 0.04, 0.03, -0.02, 0.03, 0.02],
  [0.08, 0.02, 0.03, 0.02, -0.02, 0.03, 0.05, 0.06, 0.04, 0.03, -0.03, 0.04, -0.2, 0.02, 0.03, 0.02, 0.04, 0.06, 0.05, 0.03],
  [0.02, -0.02, 0.05, 0.04, 0.06, 0.05, 0.03, 0.05, 0.06, 0.02, 0.04, 0.03, 0.02, 0, 0.03, 0.04, 0.02, 0.03, 0.02],
  [0.06, 0.07, 0.08, 0.05, 0.07, 0.06, 0.05, 0.02, 0.04, 0.06, 0.03, 0.05, 0.04, 0.03, 0.02, 0.03, -0.02, 0.05],
  [0.3, 0.02, 0.05, 0.06, 0.07, 0.04, 0.03, 0.05, 0.04, 0.05, 0.06, 0.03, 0.04, 0.05, 0.02, 0.03, 0.02],
  [0.3, 0.02, 0.05, 0.06, -0.08, 0.04, 0.03, 0.05, 0.06, 0.04, 0.03, 0.05, 0.02, 0.03, 0.04, -0.08],
  [0.03, 0.05, 0.06, 0.02, 0.04, 0.05, 0.03, 0.06, 0.04, 0.02, 0.03, 0.05, 0.04, 0.03, 0.05],
  [0.03, 0.05, 0.04, 0.03, 0.02, -0.1, 0.04, 0.03, 0.05, 0.02, 0.03, 0.04, 0.02, 0.06],
  [0.04, 0.02, 0.05, 0.03, 0.04, 0.06, 0.03, 0.05, 0.02, 0.04, 0.03, 0.05, 0.02],
  [0.05, 0.04, 0.03, 0.06, 0.02, 0.04, 0.05, 0.03, 0.06, 0.04, 0.03, 0.02],
  [0.03, 0.05, 0.02, 0.04, 0.03, 0.05, 0.02, 0.04, 0.03, 0.02, 0.04],
  [0.04, -0.08, 0.03, 0.05, 0.02, 0.04, 0.03, 0.05, 0.02, -0.12],
  [0.08, 0.03, 0.04, 0.02, 0.05, 0.03, 0.04, 0.02, -0.2],
  [0.05, 0.06, 0.04, 0.03, 0.05, 0.02, 0.04, -0.1],
  [0.03, 0.04, 0.02, 0.05, 0.03, 0.04, 0.02],
  [0.03, 0.05, 0.04, 0.06, -0.14, 0.05],
  [0.02, 0.04, 0.03, 0.02, 0.03],
  [0.04, 0.06, 0.03, 0.02],
  [0.15, 0.03, 0.02],
  [0.03, 0.02],
  [0.1],
  []
]

const pTicks = [0, 0.75, 1.5, 2.2, 3]
const pTickLabels = ['0', '0.75', '1.5', '2.2', '3']
const clinCorTicks = [-0.096, -0.047, 0.0019, 0.051, 0.1]
const clinCorLabels = ['\u22120.096', '\u22120.047', '0.0019', '0.051', '0.1']
const cellCorTicks = [-0.24, -0.084, 0.067, 0.22, 0.37]
const cellCorLabels = ['\u22120.24', '\u22120.084', '0.067', '0.22', '0.37']

// ---------- colour scales ----------
const pColor = d3.scaleLinear()
  .domain(pTicks)
  .range(['#ffffff', '#b5dcae', '#4aa64a', '#a09a2c', '#ee851d'])
  .clamp(true)
const clinCorColor = d3.scaleLinear()
  .domain([-0.096, 0.0019, 0.1])
  .range(['#e0201f', '#ffffff', '#3574b4'])
  .interpolate(d3.interpolateLab)
  .clamp(true)
const cellCorColor = d3.scaleLinear()
  .domain([-0.24, 0, 0.37])
  .range(['#3574b4', '#ffffff', '#e0201f'])
  .interpolate(d3.interpolateLab)
  .clamp(true)

const svg = d3.select('#fig')

function panelLetter (txt, x, y) {
  svg.append('text')
    .attr('x', x).attr('y', y)
    .attr('font-size', 18).attr('font-weight', 'bold')
    .text(txt)
}

/**
 * Stacked 100% bars of immune cell fractions with legend.
 */
function drawBars () {
  const rows = sampleIds.map(function (id, i) {
    const row = { id: id }
    cellTypes.forEach(function (t, k) { row[t] = fractions[k][i] || 0 })
    return row
  })
  const series = d3.stack().keys(cellTypes).offset(d3.stackOffsetExpand)(rows)

  const xScale = d3.scaleBand().domain(sampleIds).range([72, 760])
  const yScale = d3.scaleLinear().domain([0, 1]).range([386, 33])

  svg.append('rect')
    .attr('x', 71.5).attr('y', 32.5).attr('width', 689).attr('height', 354)
    .attr('fill', 'none').attr('stroke', '#bbb')

  svg.append('g')
    .selectAll('g')
    .data(series)
    .join('g')
    .attr('fill', function (d, i) { return cellColors[i] })
    .selectAll('rect')
    .data(function (d) { return d })
    .join('rect')
    .attr('x', function (d) { return xScale(d.data.id) })
    .attr('y', function (d) { return yScale(d[1]) })
    .attr('width', xScale.bandwidth())
    .attr('height', function (d) { return yScale(d[0]) - yScale(d[1]) })
    .attr('stroke', '#111')
    .attr('stroke-width', 0.8)

  // y axis
  const yAxis = svg.append('g')
    .attr('transform', 'translate(46,0)')
    .attr('font-family', null)
    .call(d3.axisLeft(yScale).tickValues(percentTicks).tickFormat(d3.format('.0%'))
      .tickSize(3).tickPadding(0).tickSizeOuter(0))
  yAxis.select('.domain').attr('stroke-width', 2)
  yAxis.selectAll('text').attr('font-size', 11).attr('fill', '#222')

  svg.append('text')
    .attr('transform', 'translate(15,210) rotate(-90)')
    .attr('text-anchor', 'middle')
    .attr('font-size', 13)
    .text('Relative Percent')

  // x axis with sample names
  const xAxis = svg.append('g')
    .attr('transform', 'translate(0,388)')
    .attr('font-family', null)
    .call(d3.axisBottom(xScale).tickSize(4).tickSizeOuter(0))
  xAxis.select('.domain').attr('stroke-width', 1.5)
  xAxis.selectAll('text')
    .attr('x', 0).attr('y', 0).attr('dy', '0.3em')
    .attr('transform', 'translate(1,7) rotate(-62)')
    .attr('text-anchor', 'end')
    .attr('font-size', 4.6)
    .attr('fill', '#555')

  // legend
  const leg = svg.append('g')
  cellTypes.forEach(function (t, i) {
    const y = 44 + i * 12.22
    leg.append('rect')
      .attr('x', 785).attr('y', y - 2.5).attr('width', 5).attr('height', 5)
      .attr('fill', cellColors[i])
    leg.append('text')
      .attr('x', 795).attr('y', y).attr('dy', '0.35em')
      .attr('font-size', 10.5).attr('fill', '#222')
      .text(t)
  })
}

function drawColorbar (id, x0, x1, y0, title, scale, ticks, labels) {
  const h = 13
  const pos = d3.scaleLinear().domain([ticks[0], ticks[ticks.length - 1]]).range([x0, x1])
  const grad = svg.append('defs').append('linearGradient').attr('id', id)
  d3.range(0, 1.0001, 0.04).forEach(function (t) {
    grad.append('stop')
      .attr('offset', t)
      .attr('stop-color', scale(pos.invert(x0 + t * (x1 - x0))))
  })
  svg.append('text')
    .attr('x', x0).attr('y', y0 - 3)
    .attr('font-size', 11).attr('font-weight', 'bold')
    .text(title)
  svg.append('rect')
    .attr('x', x0).attr('y', y0).attr('width', x1 - x0).attr('height', h)
    .attr('fill', 'url(#' + id + ')')
  ticks.forEach(function (v, i) {
    const x = pos(v)
    svg.append('line').attr('x1', x).attr('x2', x).attr('y1', y0).attr('y2', y0 + 3)
      .attr('stroke', '#fff').attr('stroke-width', 1.2)
    svg.append('line').attr('x1', x).attr('x2', x).attr('y1', y0 + h - 3).attr('y2', y0 + h)
      .attr('stroke', '#fff').attr('stroke-width', 1.2)
    svg.append('text')
      .attr('x', x).attr('y', y0 + h + 12)
      .attr('text-anchor', 'middle')
      .attr('font-size', 11)
      .text(labels[i])
  })
}

/**
 * Split-cell heatmap: lower-left triangle = correlation, upper-right = -log10(p).
 */
function drawClinical () {
  const xScale = d3.scaleBand().domain(clinCols).range([4, 282])
  const yScale = d3.scaleBand().domain(clinRows).range([453, 828])
  const g = svg.append('g')

  clinCols.forEach(function (c, j) {
    clinRows.forEach(function (r, i) {
      const x0 = xScale(c)
      const x1 = x0 + xScale.bandwidth()
      const y0 = yScale(r)
      const y1 = y0 + yScale.bandwidth()
      g.append('path')
        .attr('d', 'M' + x0 + ',' + y0 + 'L' + x0 + ',' + y1 + 'L' + x1 + ',' + y1 + 'Z')
        .attr('fill', clinCorColor(clinCor[j][i]))
      g.append('path')
        .attr('d', 'M' + x0 + ',' + y0 + 'L' + x1 + ',' + y0 + 'L' + x1 + ',' + y1 + 'Z')
        .attr('fill', pColor(clinP[j][i]))
      g.append('rect')
        .attr('x', x0).attr('y', y0).attr('width', x1 - x0).attr('height', y1 - y0)
        .attr('fill', 'none').attr('stroke', '#bcbcbc').attr('stroke-width', 1.6)
      g.append('line')
        .attr('x1', x0).attr('y1', y0).attr('x2', x1).attr('y2', y1)
        .attr('stroke', '#bcbcbc').attr('stroke-width', 1.3)
    })
  })

  g.selectAll('text.row')
    .data(clinRows)
    .join('text')
    .attr('class', 'row')
    .attr('x', 287)
    .attr('y', function (d) { return yScale(d) + yScale.bandwidth() / 2 })
    .attr('dy', '0.35em')
    .attr('font-size', 12)
    .text(function (d) { return d })

  g.selectAll('text.col')
    .data(clinCols)
    .join('text')
    .attr('class', 'col')
    .attr('transform', function (d) {
      return 'translate(' + (xScale(d) + xScale.bandwidth() / 2) + ',833) rotate(-90)'
    })
    .attr('text-anchor', 'end')
    .attr('dy', '0.35em')
    .attr('font-size', 12.5)
    .text(function (d) { return d })

  drawColorbar('gradClinCor', 74, 286, 887, 'correlation', clinCorColor, clinCorTicks, clinCorLabels)
  drawColorbar('gradClinP', 300, 381, 887, '\u2212log10(p value)', pColor, pTicks, pTickLabels)
}

function stars (v) {
  if (v >= 3) return '***'
  if (v >= 2) return '**'
  if (v >= 1.3) return '*'
  return ''
}

/**
 * Triangular correlation matrix between immune cells.
 */
function drawCorrMatrix () {
  const xScale = d3.scaleBand().domain(corrCells).range([475, 753.3])
  const yScale = d3.scaleBand().domain(corrCells).range([453, 687.3])
  const rScale = d3.scaleSqrt().domain([0, 0.37]).range([0.9, 3.4])
  const g = svg.append('g')
  const cw = xScale.bandwidth()
  const ch = yScale.bandwidth()

  corrCells.forEach(function (rowName, i) {
    corrCells.forEach(function (colName, j) {
      const x0 = xScale(colName)
      const y0 = yScale(rowName)
      let fill = '#fff'
      if (j < i) fill = pColor(pLower[i][j])
      g.append('rect')
        .attr('x', x0).attr('y', y0).attr('width', cw).attr('height', ch)
        .attr('fill', fill).attr('stroke', '#c8c8c8').attr('stroke-width', 0.9)
      if (j < i) {
        const s = stars(pLower[i][j])
        if (s) {
          g.append('text')
            .attr('x', x0 + cw / 2).attr('y', y0 + ch / 2 + 6)
            .attr('text-anchor', 'middle')
            .attr('font-size', 10)
            .text(s)
        }
      } else if (j > i) {
        const v = corUpper[i][j - i - 1]
        if (v !== 0) {
          // dots are drawn slightly greyed, as in the original plot
          g.append('circle')
            .attr('cx', x0 + cw / 2).attr('cy', y0 + ch / 2)
            .attr('r', rScale(Math.abs(v)))
            .attr('fill', d3.interpolateRgb(cellCorColor(v), '#a6a6a6')(Math.abs(v) > 0.12 ? 0.1 : 0.45))
            .attr('stroke', '#9a9a9a').attr('stroke-width', 0.5)
        }
      }
    })
  })

  g.selectAll('text.row')
    .data(corrCells)
    .join('text')
    .attr('class', 'row')
    .attr('x', 757)
    .attr('y', function (d) { return yScale(d) + ch / 2 })
    .attr('dy', '0.35em')
    .attr('font-size', 12.5)
    .text(function (d) { return d })

  g.selectAll('text.col')
    .data(corrCells)
    .join('text')
    .attr('class', 'col')
    .attr('transform', function (d) {
      return 'translate(' + (xScale(d) + cw / 2) + ',692) rotate(-90)'
    })
    .attr('text-anchor', 'end')
    .attr('dy', '0.35em')
    .attr('font-size', 12.5)
    .text(function (d) { return d })

  drawColorbar('gradCellP', 553, 647, 888, '\u2212log10(p value)', pColor, pTicks, pTickLabels)
  drawColorbar('gradCellCor', 659, 857, 888, 'correlation', cellCorColor, cellCorTicks, cellCorLabels)
}

panelLetter('A', 3, 18)
drawBars()
panelLetter('B', 3, 447)
drawClinical()
panelLetter('C', 447, 447)
drawCorrMatrix()
</script>
</body>
</html>
